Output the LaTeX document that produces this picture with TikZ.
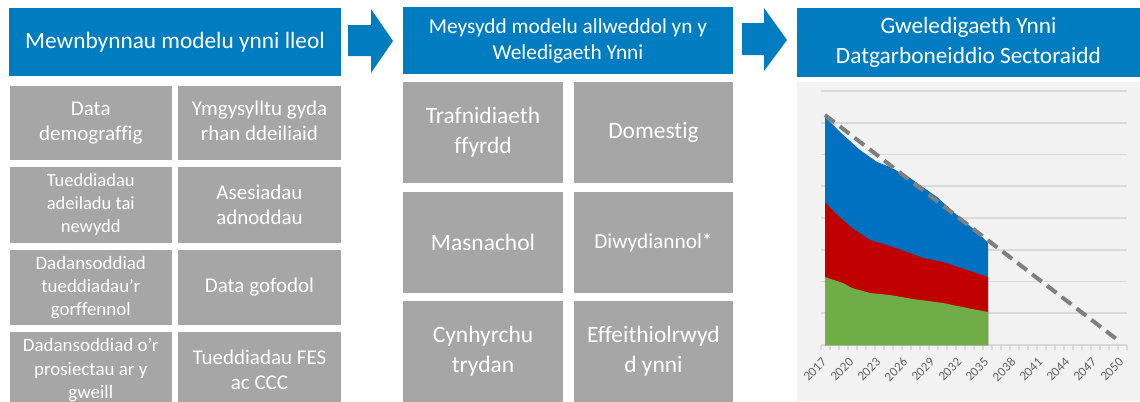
\documentclass[tikz,border=0pt]{standalone}
\usepackage{fontspec}
\setmainfont[Ligatures={NoCommon}]{Carlito}
\definecolor{hblue}{RGB}{0,125,192}
\definecolor{boxgray}{RGB}{166,166,166}
\definecolor{chartbg}{RGB}{242,242,242}
\definecolor{gridc}{RGB}{217,217,217}
\definecolor{ablue}{RGB}{0,112,192}
\definecolor{ared}{RGB}{192,0,0}
\definecolor{agreen}{RGB}{112,173,71}
\definecolor{dashc}{RGB}{127,127,127}
\definecolor{labc}{RGB}{100,100,100}
\newcommand{\myfs}[2]{\fontsize{#1}{#2}\selectfont}
\begin{document}
\begin{tikzpicture}[x=0.75pt,y=-0.75pt,
  hbox/.style 2 args={fill=hblue, minimum width=#1*0.75pt, minimum height=#2*0.75pt, inner sep=0pt, text=white, align=center},
  gbox/.style 2 args={fill=boxgray, minimum width=#1*0.75pt, minimum height=#2*0.75pt, inner sep=0pt, text=white, align=center},
  yearlab/.style={text=labc, font=\myfs{9.8}{11}, rotate=45, anchor=east, inner sep=0pt},
  gridline/.style={draw=gridc, line width=1.2pt}
]
\path[use as bounding box] (0,0) rectangle (1140,401);
\clip (0,0) rectangle (1140,401);

% ---------- column 1 ----------
\node[hbox={332}{68}, font=\myfs{17.5}{21}] (h1) at (175,42) {Mewnbynnau modelu ynni lleol};
\node[gbox={162.5}{74}, font=\myfs{15.75}{18.75}, text depth=0.6ex] (a1) at (90.75,123) {Data\\demograffig};
\node[gbox={163}{74}, font=\myfs{15.75}{18.75}, text depth=0.6ex] (b1) at (259.5,123) {Ymgysylltu gyda\\rhan ddeiliaid};
\node[gbox={162.5}{76}, font=\myfs{13.9}{17.25}] (a2) at (90.75,205) {Tueddiadau\\adeiladu tai\\newydd};
\node[gbox={163}{76}, font=\myfs{15.75}{18.75}] (b2) at (259.5,205) {Asesiadau\\adnoddau};
\node[gbox={162.5}{75}, font=\myfs{14.2}{17.25}] (a3) at (90.75,287.5) {Dadansoddiad\\tueddiadau’r\\gorffennol};
\node[gbox={163}{75}, font=\myfs{15.75}{18.75}] (b3) at (259.5,287.5) {Data gofodol};
\node[gbox={162.5}{76}, font=\myfs{14.2}{17.6}] (a4) at (90.75,370) {Dadansoddiad o’r\\prosiectau ar y\\gweill};
\node[gbox={163}{76}, font=\myfs{15.75}{18.75}] (b4) at (259.5,370) {Tueddiadau FES\\ac CCC};

% arrow 1
\fill[hblue] (348,25) -- (371,25) -- (371,9) -- (393,41) -- (371,73) -- (371,56) -- (348,56) -- cycle;

% ---------- column 2 ----------
\node[hbox={330}{67}, font=\myfs{16}{19.5}] (h2) at (568,40.5) {Meysydd modelu allweddol yn y\\Weledigaeth Ynni};
\node[gbox={160}{101}, font=\myfs{17.6}{22.5}, text depth=0.6ex] (c1) at (483,132.5) {Trafnidiaeth\\ffyrdd};
\node[gbox={159}{101}, font=\myfs{17.6}{22.5}, text depth=0.6ex] (d1) at (653.5,132.5) {Domestig};
\node[gbox={160}{101}, font=\myfs{17.6}{22.5}] (c2) at (483,242.5) {Masnachol};
\node[gbox={159}{101}, font=\myfs{16}{22.5}] (d2) at (653.5,242.5) {Diwydiannol*};
\node[gbox={160}{101}, font=\myfs{17.6}{22.5}] (c3) at (483,351.5) {Cynhyrchu\\trydan};
\node[gbox={159}{101}, font=\myfs{17.6}{22.5}] (d3) at (653.5,351.5) {Effeithiolrwyd\\d ynni};

% arrow 2
\fill[hblue] (742,23) -- (764,23) -- (764,8) -- (787,40) -- (764,71) -- (764,55) -- (742,55) -- cycle;

% ---------- column 3 ----------
\node[hbox={343}{69}, font=\myfs{17.5}{22.5}] (h3) at (968.5,42.5) {Gweledigaeth Ynni\\Datgarboneiddio Sectoraidd};
\fill[chartbg] (797,82) rectangle (1140,401);

% gridlines
\foreach \k in {0,...,7} {
  \draw[gridline] (821,{91+31.75*\k}) -- (1127,{91+31.75*\k});
}
% axis and ticks
\draw[gridline] (821,345) -- (1127,345);
\foreach \k in {0,...,34} {
  \draw[draw=gridc, line width=0.8pt] ({821+9*\k},345) -- ({821+9*\k},350);
}

% stacked areas
\fill[ablue] (825,345) -- (825,117) -- (840,132) -- (860,150) -- (877,162) -- (890,167) -- (910,178) -- (937,197) -- (957,215) -- (977,232) -- (988,243) -- (988,345) -- cycle;
\fill[ared] (825,345) -- (825,202) -- (835,213) -- (852,228) -- (870,240) -- (893,247) -- (907,252) -- (923,258) -- (943,262) -- (967,270) -- (988,277) -- (988,345) -- cycle;
\fill[agreen] (825,345) -- (825,277) -- (843,283) -- (852,288) -- (870,293) -- (890,295) -- (913,299) -- (943,303) -- (967,308) -- (988,312) -- (988,345) -- cycle;

% dashed target line
\coordinate (ds) at (825,115);
\coordinate (de) at (1119,341);
\draw[dashc, line width=3pt, dash pattern=on 9pt off 5pt] (ds) -- (de);

% year labels
\foreach \y [count=\i from 0] in {2017,2020,2023,2026,2029,2032,2035,2038,2041,2044,2047,2050} {
  \node[yearlab] (yl\i) at ({825.5+27*\i-1},360) {\y};
}
\end{tikzpicture}
\end{document}
